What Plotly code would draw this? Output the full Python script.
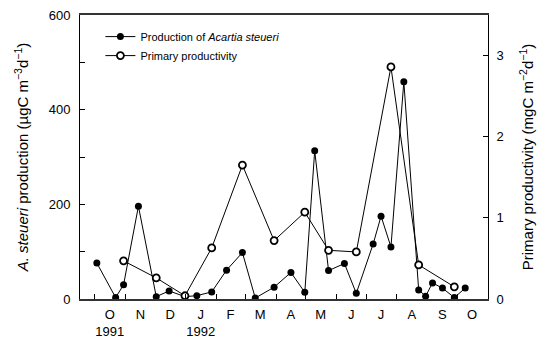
import plotly.graph_objects as go

# Production of Acartia steueri (µgC m-3 d-1), left axis
prod_dates = ["1991-10-03", "1991-10-22", "1991-10-30", "1991-11-14", "1991-12-02",
              "1991-12-15", "1991-12-31", "1992-01-12", "1992-01-27", "1992-02-11",
              "1992-02-27", "1992-03-11", "1992-03-30", "1992-04-16", "1992-04-30",
              "1992-05-10", "1992-05-24", "1992-06-09", "1992-06-21", "1992-07-08",
              "1992-07-16", "1992-07-26", "1992-08-08", "1992-08-23", "1992-08-30",
              "1992-09-06", "1992-09-16", "1992-09-28", "1992-10-09"]
prod_values = [76, 3, 30, 196, 5, 17, 5, 7, 15, 61,
               98, 2, 25, 56, 14, 313, 60, 75, 12, 116,
               175, 110, 459, 19, 6, 34, 23, 3, 23]

# Primary productivity (mgC m-2 d-1), right axis
pp_dates = ["1991-10-30", "1991-12-02", "1991-12-31", "1992-01-27", "1992-02-27",
            "1992-03-30", "1992-04-30", "1992-05-24", "1992-06-21", "1992-07-26",
            "1992-08-23", "1992-09-28"]
pp_values = [0.47, 0.26, 0.04, 0.63, 1.65, 0.72, 1.07, 0.60, 0.58, 2.86, 0.42, 0.15]

# Month tick labels (placed mid-month)
month_label_dates = ["1991-10-16", "1991-11-16", "1991-12-16", "1992-01-16", "1992-02-15",
                     "1992-03-16", "1992-04-16", "1992-05-16", "1992-06-16", "1992-07-16",
                     "1992-08-16", "1992-09-16", "1992-10-16"]
month_labels = ["O<br>1991", "N", "D", "J<br>1992", "F", "M", "A", "M", "J", "J", "A", "S", "O"]

left_ticks = [0, 200, 400, 600]
right_ticks = [0, 1, 2, 3]

FONT = "Arial, Liberation Sans, sans-serif"

fig = go.Figure()
fig.add_trace(go.Scatter(
    x=prod_dates, y=prod_values, mode="lines+markers",
    name="Production of <i>Acartia steueri</i>",
    line=dict(color="black", width=1),
    marker=dict(symbol="circle", size=7, color="black"),
))
fig.add_trace(go.Scatter(
    x=pp_dates, y=pp_values, yaxis="y2", mode="lines+markers",
    name="Primary productivity",
    line=dict(color="black", width=1),
    marker=dict(symbol="circle", size=7, color="white", line=dict(color="black", width=1.8)),
))

fig.update_layout(
    width=544, height=342,
    margin=dict(l=80, r=56, t=15, b=43, autoexpand=False),
    paper_bgcolor="white", plot_bgcolor="white",
    font=dict(family=FONT, size=13, color="black"),
    showlegend=True,
    legend=dict(x=0.05, y=0.975, xanchor="left", yanchor="top",
                font=dict(size=11), bgcolor="rgba(0,0,0,0)",
                traceorder="normal", tracegroupgap=0, itemwidth=30),
    xaxis=dict(
        type="date", range=["1991-09-16", "1992-11-01"],
        tickvals=month_label_dates, ticktext=month_labels,
        ticks="inside", ticklen=0, tickfont=dict(size=13), ticklabelstandoff=3,
        showgrid=False, zeroline=False, automargin=False,
        showline=True, linecolor="#333", linewidth=1.5, mirror=True,
        minor=dict(ticks="inside", ticklen=5, tickcolor="black", tickwidth=1,
                   dtick="M1", tick0="1991-10-01", showgrid=False),
    ),
    yaxis=dict(
        range=[0, 600], tickvals=left_ticks,
        ticks="inside", ticklen=5, tickcolor="black", ticklabelstandoff=6,
        showgrid=False, zeroline=False, automargin=False,
        showline=True, linecolor="black", linewidth=1, mirror=True,
        minor=dict(ticks="inside", ticklen=5, tickcolor="black", tickwidth=1,
                   dtick=100, tick0=0, showgrid=False),
        title=dict(text="<i>A. steueri</i> production (µgC m<sup>−3</sup>d<sup>−1</sup>)",
                   font=dict(size=15), standoff=16),
    ),
    yaxis2=dict(
        range=[0, 3.5], tickvals=right_ticks, overlaying="y", side="right",
        ticks="inside", ticklen=5, tickcolor="black", ticklabelstandoff=5,
        showgrid=False, zeroline=False, automargin=False,
        showline=True, linecolor="black", linewidth=1,
        title=dict(text="Primary productivity (mgC m<sup>−2</sup>d<sup>−1</sup>)",
                   font=dict(size=15), standoff=19),
    ),
)

fig.write_html("out.html")
